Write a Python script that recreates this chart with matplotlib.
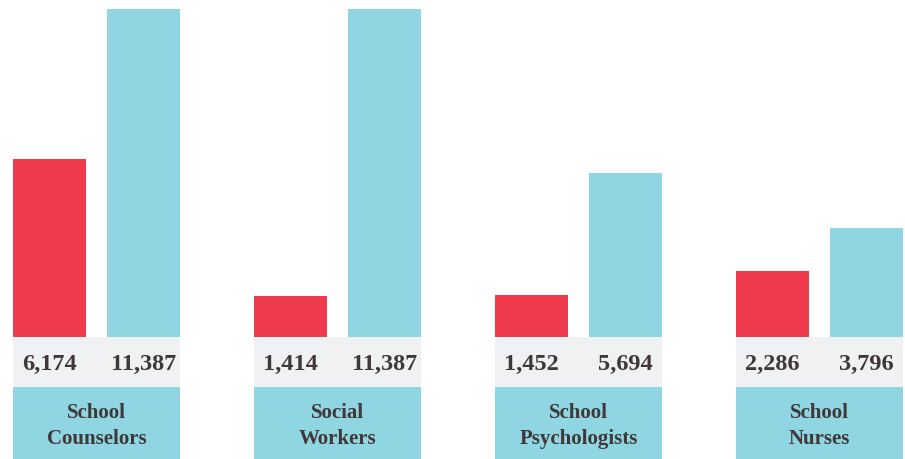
import matplotlib
matplotlib.use("Agg")
import matplotlib.pyplot as plt
import numpy as np

# Staff counts per role: current (red) vs recommended (blue)
roles = ["School\nCounselors", "Social\nWorkers", "School\nPsychologists", "School\nNurses"]
current = [6174, 1414, 1452, 2286]
recommended = [11387, 11387, 5694, 3796]

RED = "#ef3b4d"
CYAN = "#90d5e2"
BAND = "#f0f1f3"
TEXT = "#3f3838"
FONT = ["Liberation Serif", "DejaVu Serif"]

W, H = 905, 460
fig = plt.figure(figsize=(W / 100, H / 100), dpi=100)
fig.patch.set_facecolor("white")

x = np.arange(len(roles))
xlim = (-96.5 / 241, (W - 96.5) / 241)
bar_w = 73.5 / 241
offset = 0.194
panel_w = 167 / 241

# bar area: from y=10px down to y=338px
ax = fig.add_axes([0, (H - 338) / H, 1, 328 / H])
ax.bar(x - offset, current, width=bar_w, color=RED)
ax.bar(x + offset, recommended, width=bar_w, color=CYAN)
ax.set_xlim(*xlim)
ax.set_ylim(0, max(recommended))
ax.axis("off")

# light band holding the value labels
band = fig.add_axes([0, 72 / H, 1, 50 / H])
band.bar(x, 1, width=panel_w, color=BAND)
band.set_xlim(*xlim)
band.set_ylim(0, 1)
band.axis("off")
for i in x:
    band.text(i - offset, 0.47, f"{current[i]:,}", ha="center", va="center",
              fontsize=17.5, fontweight="bold", family=FONT, color=TEXT)
    band.text(i + offset, 0.47, f"{recommended[i]:,}", ha="center", va="center",
              fontsize=17.5, fontweight="bold", family=FONT, color=TEXT)

# category boxes
lab = fig.add_axes([0, 0, 1, 72 / H])
lab.bar(x, 1, width=panel_w, color=CYAN)
lab.set_xlim(*xlim)
lab.set_ylim(0, 1)
lab.axis("off")
for i, name in enumerate(roles):
    lab.text(i, 0.47, name, ha="center", va="center", fontsize=15,
             fontweight="bold", family=FONT, color=TEXT, linespacing=1.4)

fig.savefig("out.png", dpi=100, facecolor="white")
